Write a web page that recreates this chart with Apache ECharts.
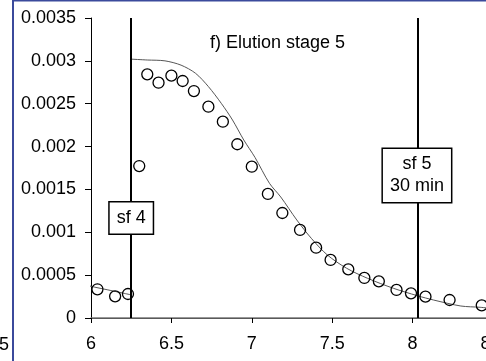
<!DOCTYPE html>
<html>
<head>
<meta charset="utf-8">
<script src="https://cdn.jsdelivr.net/npm/echarts@6/dist/echarts.min.js"></script>
<style>
  html, body { margin: 0; padding: 0; background: #fff; }
  #chart { width: 486px; height: 361px; }
</style>
</head>
<body>
<div id="chart"></div>
<script>
// measured points (elution stage 5)
const sampleX = [6.04, 6.15, 6.23, 6.30, 6.35, 6.42, 6.50, 6.57, 6.64, 6.73, 6.82, 6.91, 7.00,
  7.10, 7.19, 7.30, 7.40, 7.49, 7.60, 7.70, 7.79, 7.90, 7.99, 8.08, 8.23, 8.43]
const sampleY = [0.000335, 0.000253, 0.00028, 0.001773, 0.002843, 0.002745, 0.002827, 0.002765,
  0.002648, 0.002465, 0.00229, 0.002027, 0.001765, 0.001447, 0.001225, 0.001027, 0.00082,
  0.000677, 0.000568, 0.000467, 0.000428, 0.000327, 0.000288, 0.000249, 0.00021, 0.000148]

// model curve, before and after the switch at sf 4
const modelBeforeX = [5.95, 6.0, 6.1, 6.2, 6.25]
const modelBeforeY = [0.0004, 0.00037, 0.00033, 0.00029, 0.00027]
const modelAfterX = [6.25, 6.35, 6.46, 6.56, 6.65, 6.73, 6.81, 6.88, 6.95, 7.02, 7.11, 7.18,
  7.28, 7.37, 7.47, 7.59, 7.72, 7.88, 8.03, 8.13, 8.3, 8.42, 8.5]
const modelAfterY = [0.00302, 0.00301, 0.003, 0.00295, 0.002855, 0.0027, 0.002505, 0.00231,
  0.002077, 0.001873, 0.001571, 0.001412, 0.001143, 0.00093, 0.000735, 0.00058, 0.000463,
  0.000347, 0.00026, 0.00021, 0.00014, 0.000125, 0.00011]

const switchX = [6.25, 8.027]
const switchLabels = ['sf 4', 'sf 5\n30 min']
const switchLabelY = [0.001167, 0.001663]

const titleText = 'f) Elution stage 5'

const font = 'Liberation Sans, Arial, sans-serif'
const zip = (xs, ys) => xs.map((x, i) => [x, ys[i]])

const chart = echarts.init(document.getElementById('chart'))

const modelStyle = {
  type: 'line',
  showSymbol: false,
  symbol: 'none',
  smooth: 0.3,
  lineStyle: { color: '#555', width: 1 },
  z: 3
}

chart.setOption({
  animation: false,
  backgroundColor: '#fff',
  title: {
    text: titleText,
    left: 210,
    top: 34,
    padding: 0,
    textStyle: { fontFamily: font, fontSize: 18, fontWeight: 'normal', color: '#000' }
  },
  grid: {
    left: 91,
    top: 18,
    right: -7,
    bottom: 43,
    containLabel: false,
    outerBoundsMode: 'none'
  },
  xAxis: [
    {
      type: 'value',
      min: 6,
      max: 8.5,
      interval: 0.5,
      splitLine: { show: false },
      axisLine: { onZero: false, lineStyle: { color: '#000', width: 1 } },
      axisTick: { inside: false, length: 5, lineStyle: { color: '#000' } },
      axisLabel: { margin: 17, color: '#000', fontFamily: font, fontSize: 18, showMaxLabel: true }
    },
    {
      type: 'value',
      position: 'top',
      min: 6,
      max: 8.5,
      splitLine: { show: false },
      axisLine: { show: true, lineStyle: { color: '#777', width: 1.5 } },
      axisTick: { show: false },
      axisLabel: { show: false }
    }
  ],
  yAxis: {
    type: 'value',
    min: 0,
    max: 0.0035,
    interval: 0.0005,
    splitLine: { show: false },
    axisLine: { show: true, lineStyle: { color: '#000', width: 1 } },
    axisTick: { show: true, length: 6, lineStyle: { color: '#000' } },
    axisLabel: { margin: 15, color: '#000', fontFamily: font, fontSize: 18 }
  },
  series: [
    Object.assign({ data: zip(modelBeforeX, modelBeforeY) }, modelStyle),
    Object.assign({ data: zip(modelAfterX, modelAfterY) }, modelStyle),
    {
      type: 'scatter',
      data: zip(sampleX, sampleY),
      symbol: 'circle',
      symbolSize: 11,
      itemStyle: { color: 'rgba(255,255,255,0)', borderColor: '#000', borderWidth: 1.3, opacity: 1 },
      z: 4,
      markLine: {
        silent: true,
        symbol: 'none',
        label: { show: false },
        lineStyle: { color: '#000', width: 2, type: 'solid' },
        data: switchX.map(x => ({ xAxis: x }))
      }
    },
    {
      type: 'scatter',
      symbolSize: 0,
      itemStyle: { opacity: 1 },
      data: switchX.map((x, i) => ({ value: [x, switchLabelY[i]], name: switchLabels[i] })),
      z: 10,
      label: {
        show: true,
        position: 'inside',
        formatter: p => p.name,
        color: '#000',
        fontFamily: font,
        fontSize: 18,
        lineHeight: 22,
        backgroundColor: '#fff',
        borderColor: '#000',
        borderWidth: 1.5,
        padding: [5, 7, 4, 7]
      }
    }
  ],
  graphic: [
    { type: 'line', shape: { x1: 13, y1: 0, x2: 13, y2: 361 }, style: { stroke: '#3b4a9c', lineWidth: 2 }, z: 20 },
    { type: 'line', shape: { x1: 12, y1: 0.5, x2: 486, y2: 0.5 }, style: { stroke: '#3b4a9c', lineWidth: 2 }, z: 20 },
    {
      type: 'text', left: -1, top: 336,
      style: { text: '5', fill: '#000', font: '18px ' + font }
    }
  ]
})
</script>
</body>
</html>
